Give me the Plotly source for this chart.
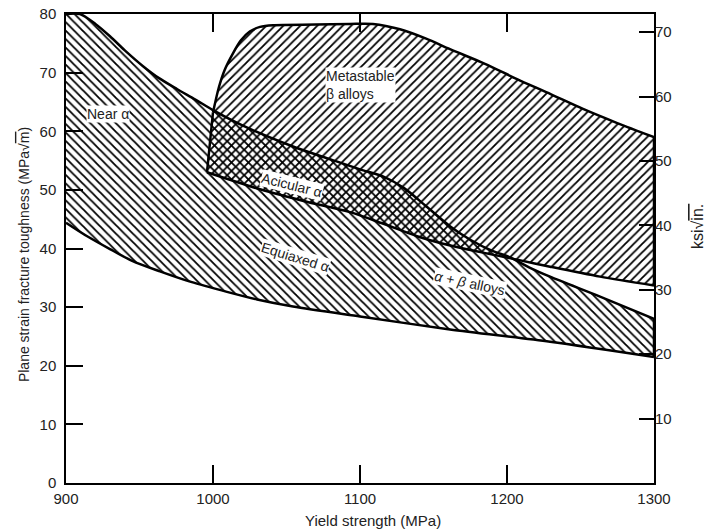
import plotly.graph_objects as go

# Boundary curves (yield strength MPa, toughness MPa*sqrt(m))
# upper edge of alpha+beta family (Near alpha -> Acicular top -> alpha+beta top)
ab_top_x = [900, 909.5, 920, 929.9, 940, 952.4, 963, 975.5, 988, 1000, 1020, 1054.4, 1080,
            1100, 1115.6, 1130, 1145, 1161.2, 1175, 1190, 1202, 1215, 1229.3, 1263.3, 1300]
ab_top_y = [80, 80, 78.3, 76.2, 73.8, 71.1, 69.1, 67.2, 65.4, 63.6, 61.0, 57.4, 55.2,
            53.5, 52.3, 50.3, 47.2, 43.8, 41.5, 39.6, 38.5, 36.8, 35.2, 31.8, 28.0]
# lower edge of alpha+beta family (Equiaxed alpha bottom)
ab_bot_x = [900, 915, 929.9, 945, 963.9, 985, 1009.5, 1030, 1054.4, 1100, 1161.2, 1229.3, 1300]
ab_bot_y = [44.4, 42.0, 39.9, 37.9, 36.1, 34.3, 32.6, 31.3, 30.1, 28.4, 26.2, 24.1, 21.5]
# upper edge of metastable beta alloys
mb_top_x = [1000, 1004, 1008, 1013.6, 1019, 1025, 1032, 1040.8, 1070, 1093.2, 1108.8, 1127.2,
            1145, 1161.2, 1185, 1206.8, 1230, 1251.7, 1275, 1300]
mb_top_y = [63.2, 67.5, 70.5, 73.3, 75.5, 77.0, 77.8, 78.1, 78.2, 78.3, 78.3, 77.4,
            75.8, 74.0, 71.5, 68.9, 66.3, 63.8, 61.4, 59.0]
# lower edge of metastable beta alloys (Acicular bottom)
mb_bot_x = [995.9, 1032, 1065, 1093.2, 1115, 1138.8, 1160, 1183.7, 1206.8, 1229.3, 1263.3, 1300]
mb_bot_y = [53.0, 50.1, 47.9, 46.2, 44.3, 42.1, 40.6, 39.3, 38.1, 36.9, 35.2, 33.7]

x_ticks = [900, 1000, 1100, 1200, 1300]
y_ticks = [0, 10, 20, 30, 40, 50, 60, 70, 80]
ksi_ticks = [10, 20, 30, 40, 50, 60, 70]
KSI_TO_MPA = 1.0988

FONT = "Liberation Sans, Arial, sans-serif"

fig = go.Figure()

def hatch_fill(xs, ys, shape):
    fig.add_trace(go.Scatter(
        x=xs, y=ys, mode="lines", fill="toself",
        line=dict(color="rgba(0,0,0,0)", width=0),
        fillcolor="rgba(0,0,0,0)",
        fillpattern=dict(shape=shape, fgcolor="black", bgcolor="rgba(255,255,255,0)",
                         size=6, solidity=0.3, fillmode="replace"),
        hoverinfo="skip", showlegend=False))

def edge(xs, ys, spline=True):
    fig.add_trace(go.Scatter(
        x=xs, y=ys, mode="lines",
        line=dict(color="black", width=2.5, shape="spline" if spline else "linear",
                  smoothing=0.8),
        hoverinfo="skip", showlegend=False))

# alpha+beta family region ("\" hatch)
hatch_fill(ab_top_x + ab_bot_x[::-1], ab_top_y + ab_bot_y[::-1], "\\")
# metastable beta region ("/" hatch); overlap gives the acicular cross-hatch
hatch_fill(mb_top_x + mb_bot_x[::-1], mb_top_y + mb_bot_y[::-1], "/")

edge(ab_top_x, ab_top_y)
edge(ab_bot_x, ab_bot_y)
edge(mb_top_x, mb_top_y)
edge(mb_bot_x, mb_bot_y)
edge([mb_bot_x[0], mb_top_x[0]], [mb_bot_y[0], mb_top_y[0]], spline=False)
edge([ab_top_x[-1], ab_bot_x[-1]], [ab_top_y[-1], ab_bot_y[-1]], spline=False)
edge([mb_top_x[-1], mb_bot_x[-1]], [mb_top_y[-1], mb_bot_y[-1]], spline=False)

# invisible trace to activate the right axis
fig.add_trace(go.Scatter(x=[900], y=[0], yaxis="y2", mode="markers",
                         marker=dict(opacity=0), hoverinfo="skip", showlegend=False))

ann_font = dict(family=FONT, size=14, color="#222")
labels = [
    dict(x=928.5, y=62.9, text="Near α", textangle=0),
    dict(x=1100, y=67.9, text="Metastable<br>β alloys", textangle=0, align="left"),
    dict(x=1053.6, y=50.9, text="Acicular α", textangle=14),
    dict(x=1055.7, y=38.5, text="Equiaxed α", textangle=17),
    dict(x=1174.6, y=34.2, text="<i>α + β</i> alloys", textangle=12),
]
for lb in labels:
    fig.add_annotation(x=lb["x"], y=lb["y"], text=lb["text"], textangle=lb["textangle"],
                       align=lb.get("align", "center"), showarrow=False,
                       bgcolor="white", borderpad=0, font=ann_font)

# axis titles as annotations for precise placement
title_common = dict(xref="paper", yref="paper", showarrow=False,
                    xanchor="center", yanchor="middle")
fig.add_annotation(x=-0.0714, y=0.486,
                   text="Plane strain fracture toughness (MPa√<span style='text-decoration:overline'>m</span>)",
                   textangle=-90, font=dict(family=FONT, size=14, color="#222"), **title_common)
fig.add_annotation(x=1.0748, y=0.548,
                   text="ksi√<span style='text-decoration:overline'>in.</span>",
                   textangle=-90, font=dict(family=FONT, size=16, color="#222"), **title_common)
fig.add_annotation(x=0.522, y=-0.079,
                   text="Yield strength (MPa)",
                   font=dict(family=FONT, size=15, color="#222"), **title_common)

fig.update_layout(
    width=707, height=529,
    margin=dict(l=66, r=53, t=14, b=46, autoexpand=False),
    paper_bgcolor="white", plot_bgcolor="white",
    font=dict(family=FONT, size=15, color="#222"),
    xaxis=dict(range=[900, 1300], tickvals=x_ticks, ticks="inside", ticklen=18,
               tickwidth=1.5, tickcolor="black", showline=True, linecolor="black",
               linewidth=1.5, mirror="ticks", showgrid=False, zeroline=False,
               ticklabelstandoff=1, tickfont=dict(size=15), automargin=False),
    yaxis=dict(range=[0, 80], tickvals=y_ticks, ticks="inside", ticklen=17,
               tickwidth=1.5, tickcolor="black", showline=True, linecolor="black",
               linewidth=1.5, mirror=True, showgrid=False, zeroline=False,
               ticklabelstandoff=5, tickfont=dict(size=15), automargin=False),
    yaxis2=dict(range=[0, 80 / KSI_TO_MPA], tickvals=ksi_ticks, overlaying="y", side="right",
                ticks="inside", ticklen=15, tickwidth=1.5, tickcolor="black",
                showline=False, showgrid=False, zeroline=False,
                tickfont=dict(size=15), automargin=False),
)

fig.write_html("out.html")
